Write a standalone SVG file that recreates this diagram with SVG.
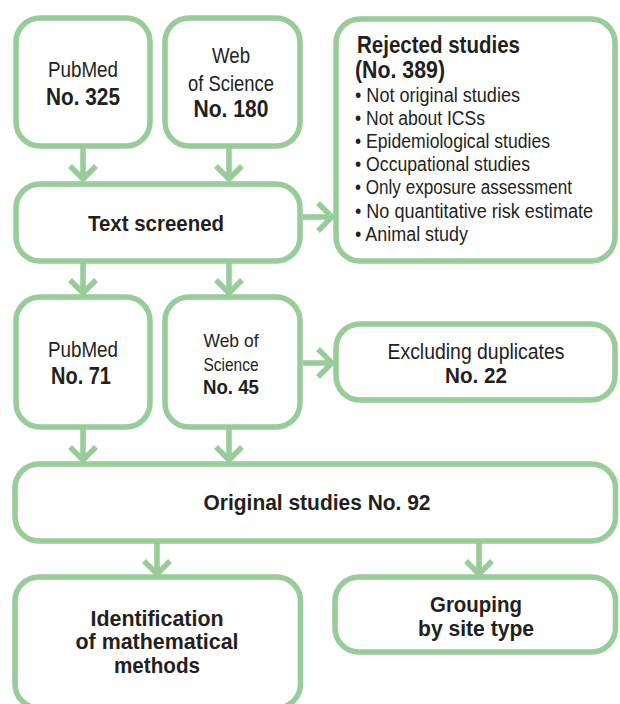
<svg xmlns="http://www.w3.org/2000/svg" width="620" height="704" viewBox="0 0 620 704">
<style>
.box{fill:#ffffff;stroke:#98cc98;stroke-width:5.5}
.conn path{fill:none;stroke:#98cc98;stroke-width:5.5;stroke-linecap:butt;stroke-linejoin:miter}
text{font-family:"Liberation Sans",Arial,sans-serif;fill:#231f20;text-anchor:middle}
.r{font-weight:normal}
.b{font-weight:bold}
.l{text-anchor:start}
</style>
<rect width="620" height="704" fill="#ffffff"/>
<g id="pubmed1">
<rect class="box" x="16" y="18" width="134" height="128" rx="24"/>
<text class="r" x="83" y="77" font-size="22" textLength="70" lengthAdjust="spacingAndGlyphs">PubMed</text>
<text class="b" x="83" y="105" font-size="23" textLength="74" lengthAdjust="spacingAndGlyphs">No. 325</text>
</g>
<g id="wos1">
<rect class="box" x="165" y="18" width="135" height="128" rx="24"/>
<text class="r" x="231" y="63" font-size="22" textLength="38" lengthAdjust="spacingAndGlyphs">Web</text>
<text class="r" x="231" y="91" font-size="22" textLength="86" lengthAdjust="spacingAndGlyphs">of Science</text>
<text class="b" x="231" y="117" font-size="23" textLength="75" lengthAdjust="spacingAndGlyphs">No. 180</text>
</g>
<g id="rejected">
<rect class="box" x="336" y="19" width="279" height="242" rx="24"/>
<text class="b l" x="357" y="53" font-size="23" textLength="163" lengthAdjust="spacingAndGlyphs">Rejected studies</text>
<text class="b l" x="355" y="78" font-size="23" textLength="90" lengthAdjust="spacingAndGlyphs">(No. 389)</text>
<text class="r l" x="355" y="102" font-size="20" textLength="165" lengthAdjust="spacingAndGlyphs">• Not original studies</text>
<text class="r l" x="355" y="125" font-size="20" textLength="130" lengthAdjust="spacingAndGlyphs">• Not about ICSs</text>
<text class="r l" x="355" y="148" font-size="20" textLength="195" lengthAdjust="spacingAndGlyphs">• Epidemiological studies</text>
<text class="r l" x="355" y="171" font-size="20" textLength="175" lengthAdjust="spacingAndGlyphs">• Occupational studies</text>
<text class="r l" x="355" y="194" font-size="20" textLength="217" lengthAdjust="spacingAndGlyphs">• Only exposure assessment</text>
<text class="r l" x="355" y="218" font-size="20" textLength="238" lengthAdjust="spacingAndGlyphs">• No quantitative risk estimate</text>
<text class="r l" x="355" y="241" font-size="20" textLength="113" lengthAdjust="spacingAndGlyphs">• Animal study</text>
</g>
<g id="screened">
<rect class="box" x="16" y="184" width="284" height="77" rx="24"/>
<text class="b" x="156" y="231" font-size="22" textLength="136" lengthAdjust="spacingAndGlyphs">Text screened</text>
</g>
<g id="pubmed2">
<rect class="box" x="16" y="297" width="134" height="130" rx="24"/>
<text class="r" x="83" y="357" font-size="22" textLength="70" lengthAdjust="spacingAndGlyphs">PubMed</text>
<text class="b" x="81" y="384" font-size="23" textLength="60" lengthAdjust="spacingAndGlyphs">No. 71</text>
</g>
<g id="wos2">
<rect class="box" x="165" y="297" width="135" height="130" rx="24"/>
<text class="r" x="231" y="347" font-size="19" textLength="55" lengthAdjust="spacingAndGlyphs">Web of</text>
<text class="r" x="231" y="371" font-size="19" textLength="55" lengthAdjust="spacingAndGlyphs">Science</text>
<text class="b" x="231" y="394" font-size="19.5" textLength="56" lengthAdjust="spacingAndGlyphs">No. 45</text>
</g>
<g id="duplicates">
<rect class="box" x="336" y="324" width="279" height="76" rx="24"/>
<text class="r" x="476" y="359" font-size="22" textLength="177" lengthAdjust="spacingAndGlyphs">Excluding duplicates</text>
<text class="b" x="476" y="383" font-size="22" textLength="62" lengthAdjust="spacingAndGlyphs">No. 22</text>
</g>
<g id="original">
<rect class="box" x="15" y="464" width="600.5" height="77" rx="24"/>
<text class="b" x="317" y="510" font-size="22" textLength="227" lengthAdjust="spacingAndGlyphs">Original studies No. 92</text>
</g>
<g id="identification">
<rect class="box" x="15" y="577" width="285.5" height="131" rx="24"/>
<text class="b" x="157" y="626" font-size="22" textLength="133" lengthAdjust="spacingAndGlyphs">Identification</text>
<text class="b" x="157" y="649" font-size="22" textLength="163" lengthAdjust="spacingAndGlyphs">of mathematical</text>
<text class="b" x="157" y="673" font-size="22" textLength="86" lengthAdjust="spacingAndGlyphs">methods</text>
</g>
<g id="grouping">
<rect class="box" x="335" y="577" width="280.5" height="75" rx="24"/>
<text class="b" x="476" y="612" font-size="22" textLength="92" lengthAdjust="spacingAndGlyphs">Grouping</text>
<text class="b" x="476" y="636" font-size="22" textLength="116" lengthAdjust="spacingAndGlyphs">by site type</text>
</g>
<g class="conn" id="connectors">
<path d="M83,148 V180 M70,166 L83,179 L96,166"/>
<path d="M229,148 V180 M216,166 L229,179 L242,166"/>
<path d="M303,217 H333 M318,203 L332,217 L318,231"/>
<path d="M83,263 V294 M70,280 L83,293 L96,280"/>
<path d="M229,263 V294 M216,280 L229,293 L242,280"/>
<path d="M303,363 H333 M318,349 L332,363 L318,377"/>
<path d="M83,429 V461 M70,447 L83,460 L96,447"/>
<path d="M229,429 V461 M216,447 L229,460 L242,447"/>
<path d="M157,543 V575 M144,561 L157,574 L170,561"/>
<path d="M479,543 V575 M466,561 L479,574 L492,561"/>
</g>
</svg>
